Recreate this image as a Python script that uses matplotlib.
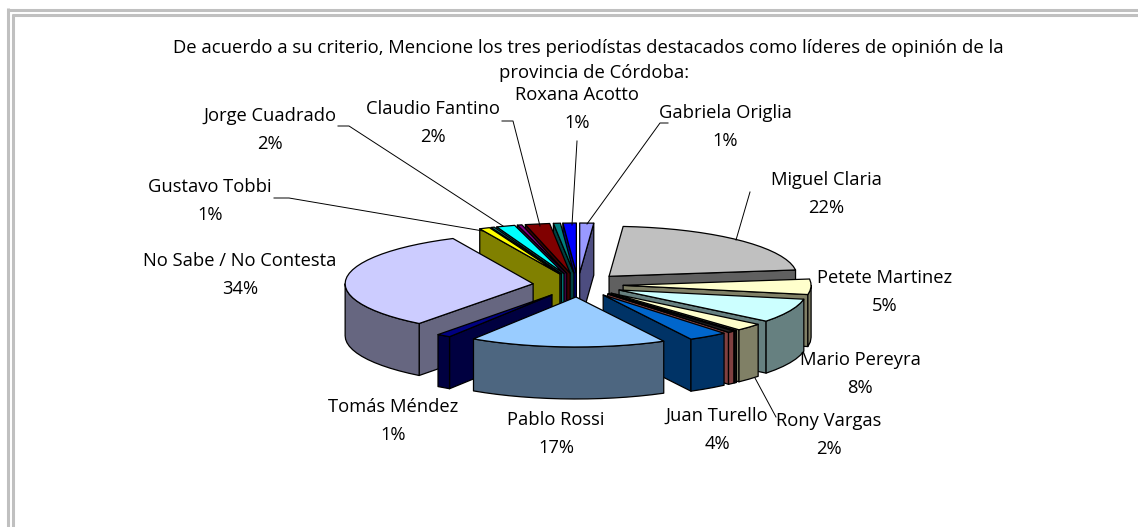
import numpy as np
import matplotlib
matplotlib.use("Agg")
import matplotlib.pyplot as plt

plt.rcParams["font.family"] = ["Open Sans", "DejaVu Sans"]

# slices clockwise from 12 o'clock, unnamed ones are the tiny unlabelled wedges
names = ["Gabriela Origlia", "Miguel Claria", "Petete Martinez", "Mario Pereyra", "Rony Vargas", "", "",
         "Juan Turello", "Pablo Rossi", "Tomás Méndez", "No Sabe / No Contesta", "Gustavo Tobbi", "",
         "Jorge Cuadrado", "", "Claudio Fantino", "", "Roxana Acotto"]
shares = [1.2, 21.9, 5.0, 7.8, 2.4, 0.2, 0.6, 3.4, 17.0, 1.2, 32.8, 0.9, 0.3, 1.6, 0.4, 2.1, 0.6, 1.15]
top_colors = ["#9999FF", "#C0C0C0", "#FFFFCC", "#CCFFFF", "#FFFFCC", "#222222", "#222222", "#0066CC", "#99CCFF",
              "#000080", "#CCCCFF", "#FFFF00", "#008080", "#00FFFF", "#800080", "#800000", "#008080", "#0000FF"]
side_colors = ["#4D4D80", "#606060", "#808066", "#668080", "#808066", "#111111", "#804040", "#003366", "#4D6680",
               "#000040", "#666680", "#808000", "#004040", "#008080", "#400040", "#400000", "#004040", "#000080"]

title_lines = ["De acuerdo a su criterio, Mencione los tres periodístas destacados como líderes de opinión de la",
               "provincia de Córdoba:"]
label_names = ["Gabriela Origlia", "Miguel Claria", "Petete Martinez", "Mario Pereyra", "Rony Vargas", "Juan Turello",
               "Pablo Rossi", "Tomás Méndez", "No Sabe / No Contesta", "Gustavo Tobbi", "Jorge Cuadrado",
               "Claudio Fantino", "Roxana Acotto"]
label_pcts = ["1%", "22%", "5%", "8%", "2%", "4%", "17%", "1%", "34%", "1%", "2%", "2%", "1%"]
label_x = [725, 826, 885, 860, 829, 717, 556, 393, 240, 210, 270, 433, 577]
label_y = [113, 180, 278, 360, 421, 416, 420, 407, 261, 187, 116, 109, 95]

cx, cy = 578, 285
rx, ry = 188, 50
depth = 52
explode = 0.24

fig = plt.figure(figsize=(11.38, 5.27), dpi=100)
ax = fig.add_axes([0, 0, 1, 1])
ax.set_xlim(0, 1138)
ax.set_ylim(527, 0)
ax.axis("off")

# page frame, only top and left lines are in the crop
ax.plot([7, 1138], [9.5, 9.5], color="#C0C0C0", lw=2.2, solid_capstyle="butt")
ax.plot([8.5, 8.5], [8, 527], color="#C0C0C0", lw=2.2, solid_capstyle="butt")
ax.plot([12, 1138], [15, 15], color="#C0C0C0", lw=2.2, solid_capstyle="butt")
ax.plot([13.5, 13.5], [14, 527], color="#C0C0C0", lw=2.2, solid_capstyle="butt")

edges = np.cumsum([0] + shares) / sum(shares) * 360


def rim(ox, oy, a):
    a = np.radians(a)
    return ox + rx * np.sin(a), oy - ry * np.cos(a)


def face(xs, ys, color, z):
    ax.fill(xs, ys, facecolor=color, edgecolor="black", lw=0.9, joinstyle="round", zorder=z)


mids = (edges[:-1] + edges[1:]) / 2
order = np.argsort(-np.cos(np.radians(mids)))
for z, i in enumerate(order):
    a1, a2 = edges[i], edges[i + 1]
    mid = np.radians(mids[i])
    ox = cx + explode * rx * np.sin(mid)
    oy = cy - explode * ry * np.cos(mid)
    z = 10 + z

    # radial walls that face the viewer
    if np.sin(np.radians(a1)) < 0:
        x1, y1 = rim(ox, oy, a1)
        face([ox, x1, x1, ox], [oy, y1, y1 + depth, oy + depth], side_colors[i], z)
    if np.sin(np.radians(a2)) > 0:
        x2, y2 = rim(ox, oy, a2)
        face([ox, x2, x2, ox], [oy, y2, y2 + depth, oy + depth], side_colors[i], z)

    # outer wall, front half of the ellipse only
    lo, hi = max(a1, 90), min(a2, 270)
    if hi > lo:
        arc = np.linspace(lo, hi, max(2, int((hi - lo) / 4) + 1))
        xs, ys = rim(ox, oy, arc)
        face(np.r_[xs, xs[::-1]], np.r_[ys, ys[::-1] + depth], side_colors[i], z)

    arc = np.linspace(a1, a2, max(2, int((a2 - a1) / 4) + 1))
    xs, ys = rim(ox, oy, arc)
    face(np.r_[ox, xs], np.r_[oy, ys], top_colors[i], z)

ax.text(588, 48, title_lines[0], ha="center", va="center", fontsize=13.3, color="black", zorder=50)
ax.text(594, 73, title_lines[1], ha="center", va="center", fontsize=13.3, color="black", zorder=50)

for name, pct, x, y in zip(label_names, label_pcts, label_x, label_y):
    ax.text(x, y, name, ha="center", va="center", fontsize=13.2, color="black", zorder=50)
    ax.text(x, y + 28, pct, ha="center", va="center", fontsize=13.2, color="black", zorder=50)

# leader lines
leaders = [
    ([274, 289, 483], [198, 198, 231]),
    ([338, 349, 503], [126, 126, 226]),
    ([502, 513, 540], [121, 121, 226]),
    ([577, 572], [141, 225]),
    ([668, 660, 587], [123, 123, 224]),
    ([750, 736], [192, 240]),
    ([755, 776], [378, 417]),
]
for xs, ys in leaders:
    ax.plot(xs, ys, color="black", lw=0.7, zorder=40)

fig.savefig("out.png", dpi=100, facecolor="white")
plt.close(fig)
